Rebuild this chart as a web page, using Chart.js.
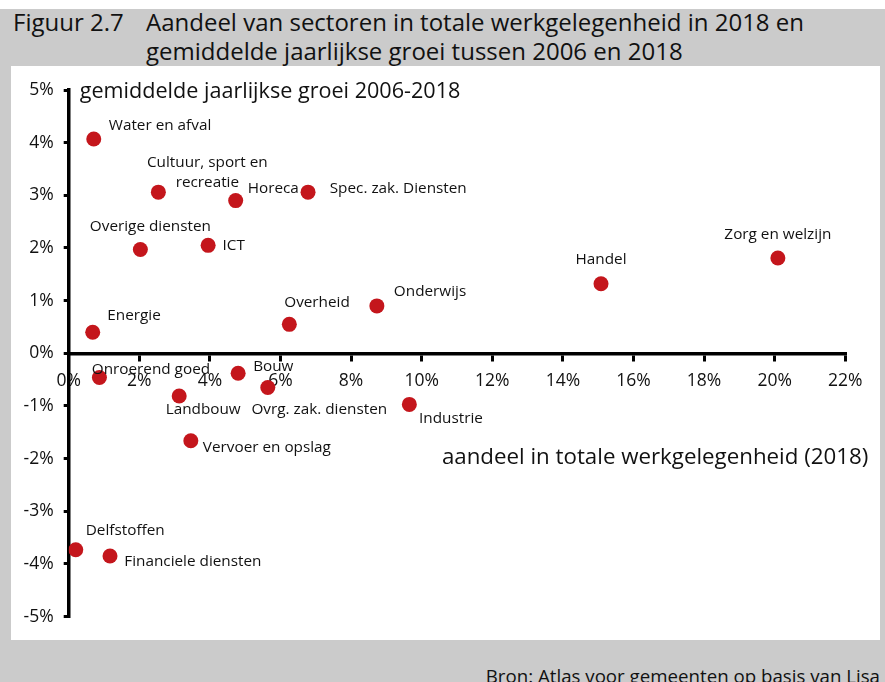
<!DOCTYPE html>
<html>
<head>
<meta charset="utf-8">
<title>Figuur 2.7</title>
<script src="https://cdn.jsdelivr.net/npm/chart.js@4.4.1/dist/chart.umd.min.js"></script>
<style>
  html, body { margin: 0; padding: 0; background: #fff; }
  #page { position: relative; width: 885px; height: 682px; overflow: hidden; font-family: 'Open Sans', sans-serif; color: #111; }
  #grey { position: absolute; left: 0; top: 9px; width: 885px; height: 673px; background: #cbcbcb; }
  .title { position: absolute; top: 7px; font-size: 24px; line-height: 29px; white-space: nowrap; }
  #panel { position: absolute; left: 11px; top: 66px; width: 869px; height: 574px; background: #fff; }
  #source { position: absolute; right: 5px; top: 664px; font-size: 18.7px; line-height: 24px; white-space: nowrap; }
</style>
</head>
<body>
<div id="page">
  <div id="grey"></div>
  <div class="title" style="left:13px">Figuur 2.7</div>
  <div class="title" style="left:146px">Aandeel van sectoren in totale werkgelegenheid in 2018 en<br>gemiddelde jaarlijkse groei tussen 2006 en 2018</div>
  <div id="panel"><canvas id="chart" width="869" height="574"></canvas></div>
  <div id="source">Bron: Atlas voor gemeenten op basis van Lisa</div>
</div>
<script>
// --- data ---
const sectors = [
  'Water en afval', ['Cultuur, sport en', 'recreatie'], 'Horeca', 'Spec. zak. Diensten',
  'Overige diensten', 'ICT', 'Energie', 'Overheid', 'Onderwijs', 'Handel', 'Zorg en welzijn',
  'Onroerend goed', 'Bouw', 'Landbouw', 'Ovrg. zak. diensten', 'Industrie',
  'Vervoer en opslag', 'Delfstoffen', 'Financiele diensten'
];
// aandeel in totale werkgelegenheid 2018 (%)
const jobShare = [0.71, 2.54, 4.73, 6.78, 2.03, 3.95, 0.68, 6.25, 8.73, 15.08, 20.09,
  0.87, 4.80, 3.13, 5.64, 9.65, 3.46, 0.20, 1.17];
// gemiddelde jaarlijkse groei 2006-2018 (%)
const annualGrowth = [4.07, 3.06, 2.90, 3.06, 1.97, 2.05, 0.40, 0.55, 0.90, 1.32, 1.81,
  -0.46, -0.38, -0.81, -0.65, -0.97, -1.66, -3.73, -3.85];
const xTickValues = [0, 2, 4, 6, 8, 10, 12, 14, 16, 18, 20, 22];
const yTickValues = [-5, -4, -3, -2, -1, 0, 1, 2, 3, 4, 5];

const yTitle = 'gemiddelde jaarlijkse groei 2006-2018';
const xTitle = 'aandeel in totale werkgelegenheid (2018)';

// label placement per point (pixel offset from the dot, text centre line)
const labelPlacement = [
  { dx: 15, dy: -14, align: 'left' },
  { dx: 49, dy: -30.5, align: 'center' },
  { dx: 12, dy: -13.5, align: 'left' },
  { dx: 21.7, dy: -4.5, align: 'left' },
  { dx: 10, dy: -24, align: 'center' },
  { dx: 14.4, dy: -1.3, align: 'left' },
  { dx: 14.6, dy: -18, align: 'left' },
  { dx: 27.7, dy: -22.6, align: 'center' },
  { dx: 17, dy: -15, align: 'left' },
  { dx: 0, dy: -25, align: 'center' },
  { dx: 0, dy: -24.3, align: 'center' },
  { dx: 51.5, dy: -8.7, align: 'center' },
  { dx: 15, dy: -8.3, align: 'left' },
  { dx: 24, dy: 12.3, align: 'center' },
  { dx: 51.5, dy: 21, align: 'center' },
  { dx: 9.7, dy: 13, align: 'left' },
  { dx: 12, dy: 5.7, align: 'left' },
  { dx: 10, dy: -20, align: 'left' },
  { dx: 14.3, dy: 4, align: 'left' }
];

const FONT = "'Open Sans', sans-serif";
const INK = '#111';
const DOT = '#c4161c';

// draws the sector names next to the dots and the two axis titles
const annotations = {
  id: 'annotations',
  afterDatasetsDraw(chart) {
    const { ctx, chartArea } = chart;
    const points = chart.getDatasetMeta(0).data;
    ctx.save();
    ctx.fillStyle = INK;
    ctx.textBaseline = 'alphabetic';
    ctx.font = `15.3px ${FONT}`;
    points.forEach((pt, i) => {
      const p = labelPlacement[i];
      const lines = [].concat(sectors[i]);
      ctx.textAlign = p.align;
      lines.forEach((line, j) => {
        ctx.fillText(line, pt.x + p.dx, pt.y + p.dy + j * 20 + 5.5);
      });
    });

    ctx.font = `21.6px ${FONT}`;
    ctx.textAlign = 'left';
    ctx.fillText(yTitle, chartArea.left + 11, 31.8);
    ctx.font = `22.3px ${FONT}`;
    ctx.textAlign = 'right';
    ctx.fillText(xTitle, 857.3, 397.5);
    ctx.restore();
  }
};

new Chart(document.getElementById('chart'), {
  type: 'scatter',
  data: {
    labels: sectors,
    datasets: [{
      data: jobShare.map((x, i) => ({ x, y: annualGrowth[i] })),
      backgroundColor: DOT,
      borderWidth: 0,
      pointRadius: 7.5,
      pointHoverRadius: 7.5
    }]
  },
  options: {
    responsive: false,
    devicePixelRatio: 1,
    animation: false,
    layout: { padding: { left: 0, top: 24, right: 34.7, bottom: 23.4 } },
    plugins: { legend: { display: false }, tooltip: { enabled: false } },
    scales: {
      x: {
        type: 'linear',
        position: { y: 0 },
        min: 0,
        max: 22,
        afterFit: (s) => { s.height = 0; },
        afterBuildTicks: (s) => { s.ticks = xTickValues.map(value => ({ value })); },
        border: { display: true, color: '#000', width: 3.5 },
        grid: { drawOnChartArea: false, drawTicks: true, tickLength: 6, color: '#000', lineWidth: 3 },
        ticks: { color: INK, font: { family: FONT, size: 17.5 }, padding: 11, maxRotation: 0, autoSkip: false,
          callback: (v) => v + '%' }
      },
      y: {
        type: 'linear',
        position: 'left',
        min: -5,
        max: 5,
        afterFit: (s) => { s.width = 57.7; },
        afterBuildTicks: (s) => { s.ticks = yTickValues.map(value => ({ value })); },
        border: { display: true, color: '#000', width: 3.5 },
        grid: { drawOnChartArea: false, drawTicks: true, tickLength: 5, color: '#000', lineWidth: 3 },
        ticks: { color: INK, font: { family: FONT, size: 17.5 }, padding: 10, autoSkip: false,
          callback: (v) => v + '%' }
      }
    }
  },
  plugins: [annotations]
});
</script>
</body>
</html>
